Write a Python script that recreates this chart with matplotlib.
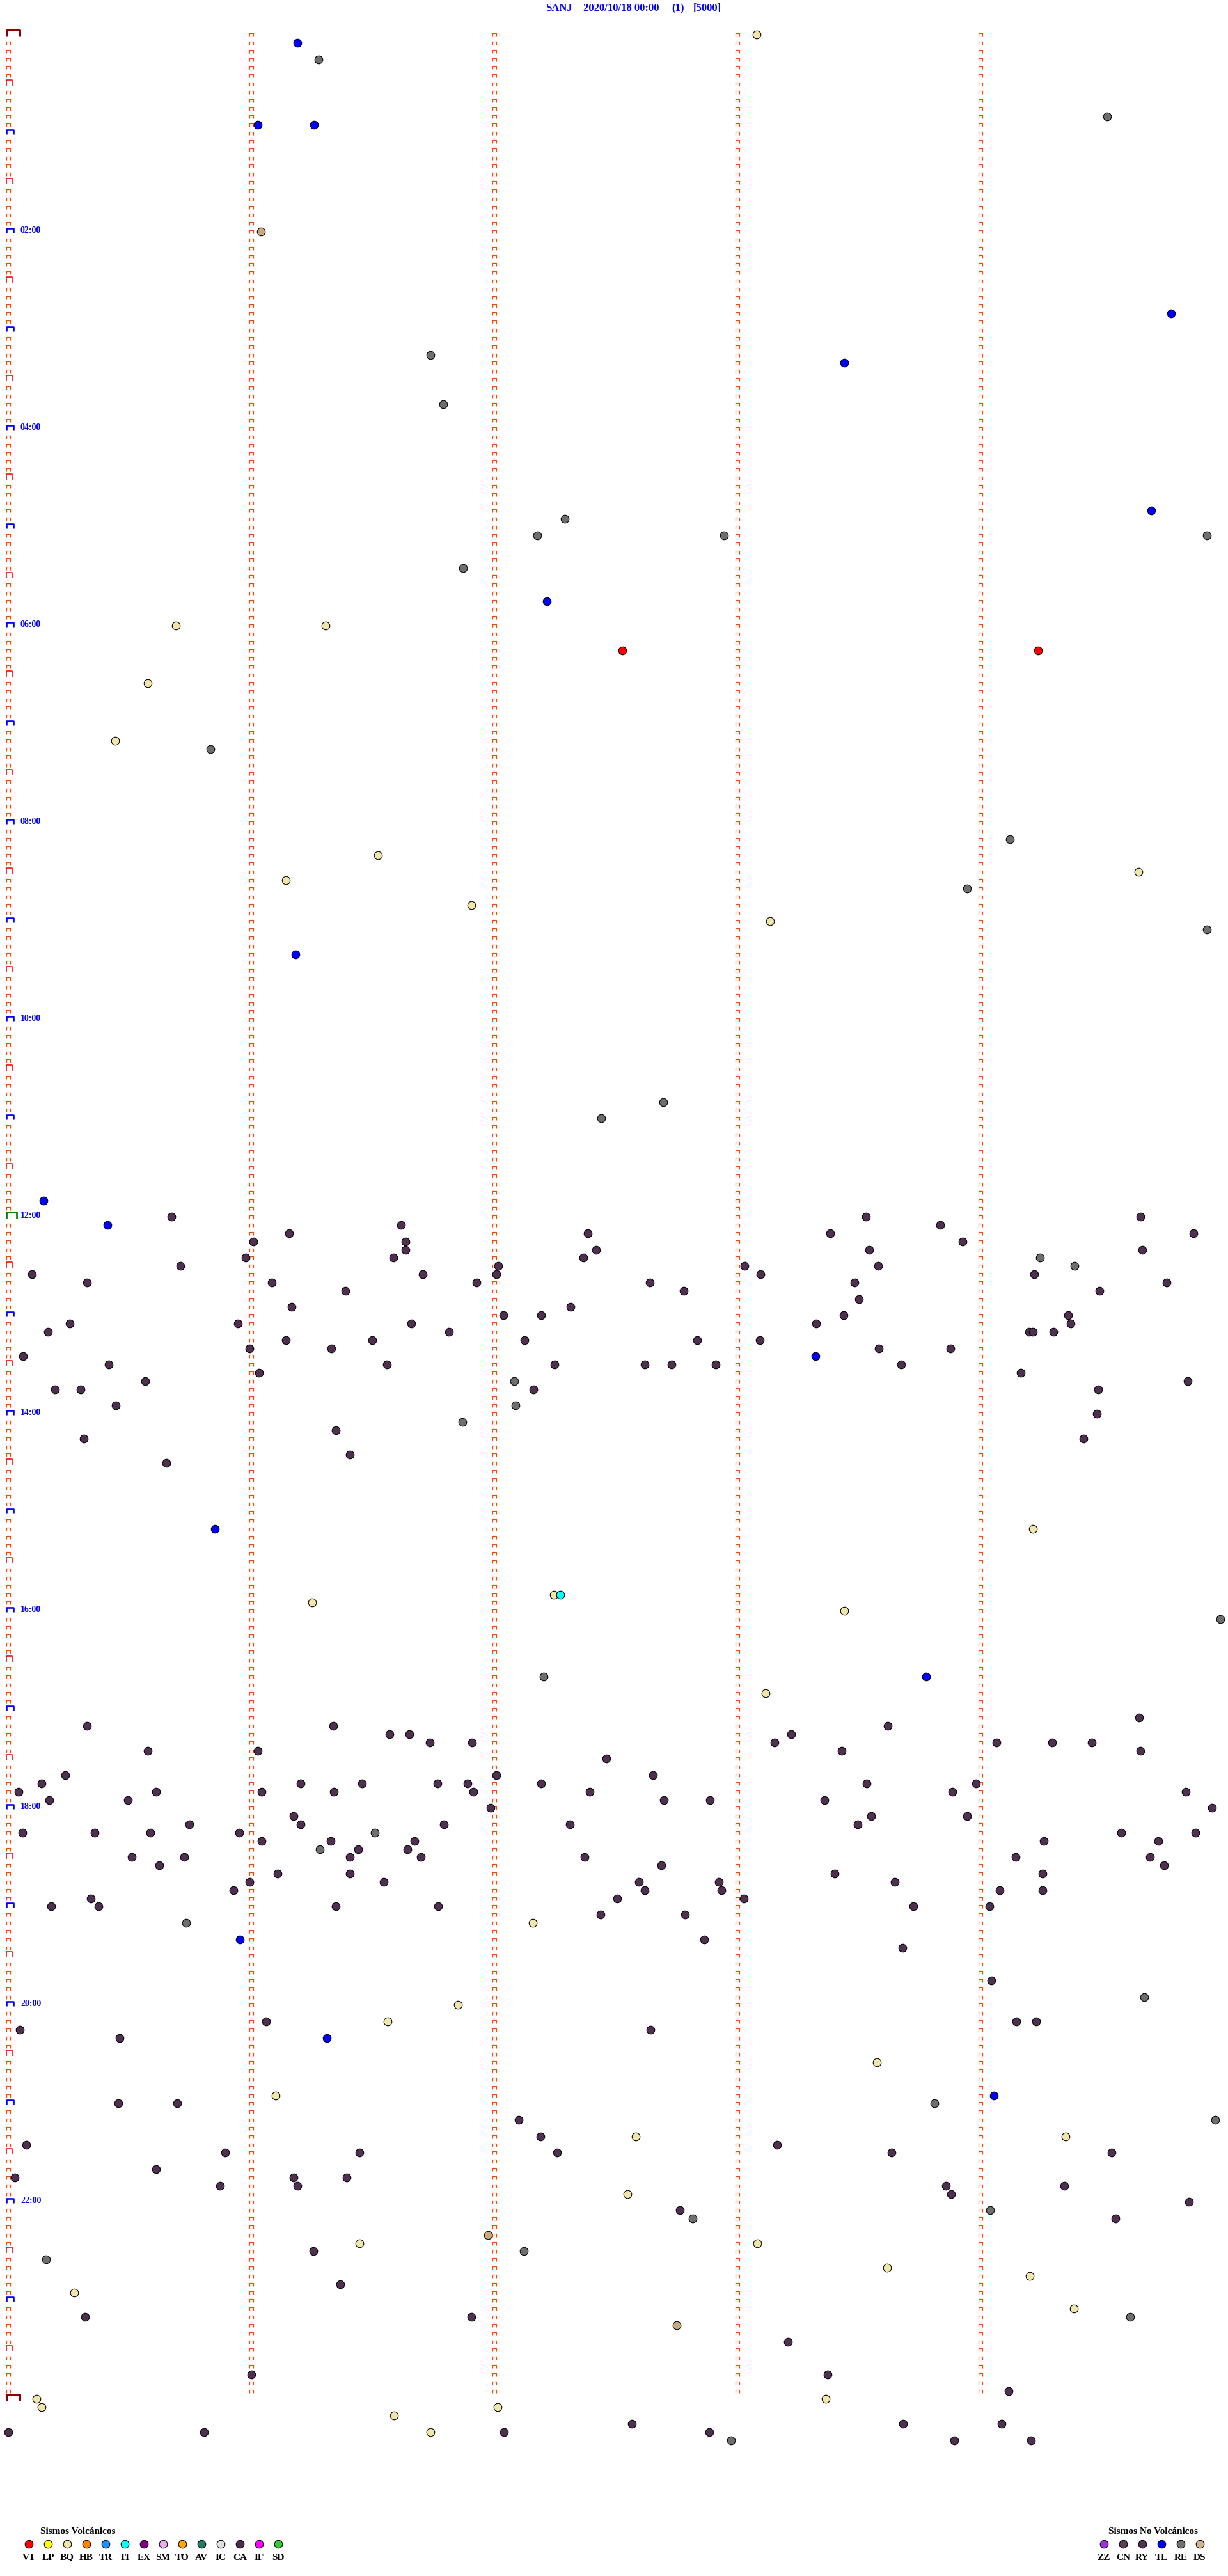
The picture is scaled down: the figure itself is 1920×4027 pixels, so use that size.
import numpy as np
import matplotlib
matplotlib.use('Agg')
import matplotlib.pyplot as plt
from matplotlib.path import Path

# drum layout: one row = 5 minutes, 288 rows per day
row_px = 12.835
row0_px = 54.0
min_px = 380.0
x0_px = 13.0
W, H = 1920, 4027

# events: (row index, minute within row)
ca_rows = [144, 146, 145, 147, 147, 148, 149, 149, 150, 151, 151, 151, 150, 152, 152, 152, 153, 155, 155, 156,
           156, 157, 157, 157, 158, 158, 159, 159, 159, 160, 160, 161, 162, 162, 162, 163, 164, 165, 165, 165,
           167, 170, 171, 173, 174, 146, 148, 149,
           144, 145, 146, 147, 148, 150, 150, 151, 152, 152, 153, 154, 156, 157, 159, 159, 160, 160, 162, 162,
           162, 162, 144, 146, 148, 151, 152, 153, 156, 157, 158, 158, 158, 163, 164, 165, 168, 171,
           206, 206, 207, 207, 208, 208, 209, 209, 210, 212, 212, 213, 213, 213, 213, 213, 213, 214, 214, 214,
           214, 214, 214, 215, 215, 216, 217, 218, 218, 218, 218, 219, 219, 219, 219, 220, 220, 220, 221, 221,
           222, 222, 222, 222, 222, 223, 224, 224, 225, 225, 226, 227, 228, 228, 228, 228, 229,
           206, 207, 208, 209, 205, 208, 208, 208, 209, 212, 213, 213, 214, 214, 215, 215, 215, 216, 217, 217,
           218, 219, 219, 220, 220, 222, 222, 223, 223, 224, 224, 225, 225, 225, 226, 226, 226, 226, 227, 227,
           228, 228, 229, 232, 233, 237,
           242, 243, 244, 243, 242, 242, 252, 252, 254, 256, 258, 257, 258, 258, 257, 258, 258, 260, 261, 261,
           262, 261, 262, 262, 262, 263, 264, 265, 266, 270, 274, 278, 278, 281, 285, 285, 287, 292, 292, 292,
           291, 292, 291, 293, 291, 293]
ca_mins = [0.671, 1.154, 1.617, 1.008, 1.633, 1.634, 0.977, 1.583, 0.707, 0.098, 1.705, 2.008, 2.016, 0.323,
           1.085, 1.927, 1.386, 1.167, 2.314, 2.037, 2.193, 0.252, 0.945, 1.658, 0.162, 1.813, 1.143, 1.497,
           2.124, 0.992, 1.328, 0.061, 0.413, 1.557, 2.248, 1.032, 0.562, 0.193, 0.298, 2.161, 0.441, 1.348,
           0.311, 1.406, 0.650, 2.385, 2.418, 2.365,
           3.529, 3.835, 3.381, 3.926, 3.542, 3.030, 3.579, 3.096, 3.481, 2.640, 2.779, 3.499, 3.437, 3.323,
           2.833, 3.093, 3.581, 3.877, 2.618, 2.729, 2.911, 3.674, 4.657, 4.876, 4.666, 4.220, 4.766, 4.489,
           4.360, 4.370, 4.199, 4.217, 4.301, 4.165, 4.853, 4.484, 4.479, 4.425,
           0.323, 1.338, 1.568, 1.650, 1.733, 1.907, 0.575, 1.027, 2.461, 0.233, 2.008, 0.138, 1.203, 1.456,
           1.765, 1.890, 2.192, 0.041, 0.607, 1.043, 1.339, 1.914, 2.391, 0.169, 0.491, 1.984, 1.174, 0.744,
           1.203, 1.791, 2.311, 0.059, 0.356, 0.584, 0.950, 1.043, 1.327, 1.670, 1.439, 1.642, 0.509, 0.724,
           1.404, 1.697, 2.372, 0.621, 1.109, 1.406, 0.992, 1.546, 0.927, 0.339, 0.177, 0.370, 1.348, 1.769,
           2.438,
           3.619, 3.220, 3.152, 3.428, 4.652, 4.066, 4.294, 4.457, 4.658, 2.652, 3.532, 3.982, 3.885, 4.846,
           2.698, 2.887, 3.359, 4.953, 3.550, 3.945, 3.496, 4.578, 4.885, 4.261, 4.732, 4.144, 4.698, 2.687,
           4.755, 3.399, 4.254, 2.595, 2.924, 3.647, 2.619, 2.935, 4.080, 4.256, 2.505, 3.027, 3.724, 4.038,
           2.785, 2.864, 3.678, 4.044,
           1.061, 0.047, 0.459, 2.641, 4.148, 4.230, 0.452, 0.696, 2.101, 2.189, 2.257, 0.074, 0.891, 1.446,
           3.162, 3.635, 4.540, 0.608, 0.027, 1.175, 1.190, 1.392, 0.871, 4.344, 3.858, 3.878, 4.858, 2.763,
           4.554, 1.256, 1.365, 0.317, 1.905, 3.209, 3.371, 1.000, 4.115, 0.000, 0.804, 2.040, 2.567, 2.885,
           3.682, 3.892, 4.088, 4.209]

tl_rows = [1, 11, 11, 34, 40, 58, 69, 112, 142, 145, 161, 182, 200, 232, 244, 251]
tl_mins = [1.189, 1.027, 1.257, 4.784, 3.439, 4.703, 2.216, 1.182, 0.146, 0.407, 3.321, 0.851, 3.777, 0.953,
           1.311, 4.054]

re_rows = [3, 10, 39, 45, 59, 61, 61, 61, 65, 87, 98, 104, 109, 130, 132, 164, 167, 169, 149, 150, 193, 200,
           219, 221, 230, 239, 252, 254, 265, 266, 270, 271, 278, 293]
re_mins = [1.277, 4.520, 1.736, 1.790, 2.290, 2.176, 2.946, 4.932, 1.872, 0.831, 4.121, 3.946, 4.932, 2.696,
           2.439, 2.082, 2.088, 1.869, 4.245, 4.388, 4.986, 2.203, 1.507, 1.282, 0.731, 4.675, 3.810, 4.966,
           4.040, 2.817, 2.121, 0.155, 4.615, 2.973]

bq_rows = [0, 72, 72, 79, 86, 100, 102, 103, 106, 108, 182, 191, 190, 192, 202, 230, 240, 242, 247, 251, 256,
           256, 263, 269, 269, 272, 273, 275, 277, 288, 289, 289, 288, 290, 292]
bq_mins = [3.080, 0.689, 1.304, 0.574, 0.439, 1.520, 4.649, 1.142, 1.905, 3.135, 4.216, 1.250, 2.245, 3.439,
           3.115, 2.159, 1.851, 1.561, 3.574, 1.101, 4.351, 2.581, 2.547, 1.446, 3.081, 3.615, 4.202, 0.270,
           4.385, 0.116, 0.138, 2.013, 3.364, 1.588, 1.736]

ds_rows = [24, 268, 279]
ds_mins = [1.040, 1.973, 2.750]

vt_rows = [75, 75]
vt_mins = [2.527, 4.236]

ti_rows = [190]
ti_mins = [2.270]

hour_labels = ['02:00', '04:00', '06:00', '08:00', '10:00', '12:00',
               '14:00', '16:00', '18:00', '20:00', '22:00']

vol_codes = ['VT', 'LP', 'BQ', 'HB', 'TR', 'TI', 'EX', 'SM', 'TO', 'AV', 'IC', 'CA', 'IF', 'SD']
vol_colors = ['#ff0000', '#ffff00', '#f0e6aa', '#ff8000', '#1e90ff', '#00ffff', '#800080',
              '#eeaaee', '#ffa500', '#1f7f66', '#dddddd', '#4b2d4b', '#ff00ff', '#33cc33']
nv_codes = ['ZZ', 'CN', 'RY', 'TL', 'RE', 'DS']
nv_colors = ['#9933dd', '#5a3f5a', '#553355', '#0000ff', '#707070', '#d2b48c']

serif = 'Liberation Serif'

fig = plt.figure(figsize=(W / 100, H / 100), dpi=100)
ax = fig.add_axes([0, 0, 1, 1])
ax.set_xlim(-x0_px / min_px, (W - x0_px) / min_px)
ax.set_ylim((H - row0_px) / row_px, -row0_px / row_px)
ax.axis('off')

pax = fig.add_axes([0, 0, 1, 1])
pax.set_xlim(0, W)
pax.set_ylim(H, 0)
pax.axis('off')


def bracket(x1, x2, y1, y2):
    # open "⊓" shape, coords in pixels around the anchor
    verts = [(x1, y1), (x1, y2), (x2, y2), (x2, y1)]
    m = np.max(np.abs(verts))
    return Path(verts), 2 * m * 0.72


def put_marks(rows, mins, shape, color, lw):
    p, ms = shape
    ax.plot(mins, rows, linestyle='none', marker=p, markersize=ms,
            markerfacecolor='none', markeredgecolor=color, markeredgewidth=lw * 0.72)


small = bracket(-2.7, 2.7, -2.5, 2.5)
half = bracket(-3.0, 5.7, -2.7, 5.7)
hour = bracket(-3.5, 7.7, -2.3, 5.3)
day = bracket(-3.5, 18.0, -2.7, 7.3)
noon = bracket(-3.5, 12.5, -2.5, 7.5)

rows = np.arange(0, 289)
kind_small = [r for r in rows if r % 6 != 0]
kind_half = [r for r in rows if r % 6 == 0 and r % 12 != 0]
kind_hour = [r for r in rows if r % 12 == 0 and r % 144 != 0]
kind_day = [0, 288]
kind_noon = [144]

put_marks(kind_small, np.zeros(len(kind_small)), small, '#ff4500', 1.2)
put_marks(kind_half, np.zeros(len(kind_half)), half, '#ff0000', 1.6)
put_marks(kind_hour, np.zeros(len(kind_hour)), hour, '#0000ff', 2.6)
put_marks(kind_day, np.zeros(2), day, '#8b0000', 3.0)
put_marks(kind_noon, np.zeros(1), noon, '#008000', 2.7)

for mcol in [1, 2, 3, 4]:
    rr = np.arange(0, 288)
    put_marks(rr, np.full(len(rr), mcol), small, '#ff4500', 1.2)

for i, lab in enumerate(hour_labels):
    r = (i + 1) * 24
    ax.text((32 - x0_px) / min_px, r - 0.12, lab, color='#0000ff', fontsize=10,
            fontweight='bold', family=serif, ha='left', va='center')

ev_ms = 9.0
ev_mew = 0.8
for rr, mm, col in [(ca_rows, ca_mins, '#4f3050'), (re_rows, re_mins, '#6e6e6e'),
                    (tl_rows, tl_mins, '#0000ff'), (bq_rows, bq_mins, '#f0e6aa'),
                    (ds_rows, ds_mins, '#c8aa80'), (vt_rows, vt_mins, '#ff0000'),
                    (ti_rows, ti_mins, '#00ffff')]:
    ax.plot(mm, rr, linestyle='none', marker='o', markersize=ev_ms,
            markerfacecolor=col, markeredgecolor='black', markeredgewidth=ev_mew)

# title line
tfs = 12
pax.text(853, 13, 'SANJ', color='#0000ff', fontsize=tfs, fontweight='bold', family=serif, va='center')
pax.text(912, 13, '2020/10/18 00:00', color='#0000ff', fontsize=tfs, fontweight='bold', family=serif, va='center')
pax.text(1050, 13, '(1)', color='#0000ff', fontsize=tfs, fontweight='bold', family=serif, va='center')
pax.text(1084, 13, '[5000]', color='#0000ff', fontsize=tfs, fontweight='bold', family=serif, va='center')

# legends
pax.text(63, 3957, 'Sismos Volcánicos', fontsize=11, fontweight='bold', family=serif, va='center', ha='left')
vx = 45 + 30 * np.arange(len(vol_codes))
for x, c, code in zip(vx, vol_colors, vol_codes):
    pax.plot([x], [3977], linestyle='none', marker='o', markersize=ev_ms,
             markerfacecolor=c, markeredgecolor='black', markeredgewidth=ev_mew)
    pax.text(x, 3998, code, fontsize=11, fontweight='bold', family=serif, ha='center', va='center')

pax.text(1733, 3957, 'Sismos No Volcánicos', fontsize=11, fontweight='bold', family=serif, va='center', ha='left')
nx = 1726 + 30 * np.arange(len(nv_codes))
for x, c, code in zip(nx, nv_colors, nv_codes):
    pax.plot([x], [3977], linestyle='none', marker='o', markersize=ev_ms,
             markerfacecolor=c, markeredgecolor='black', markeredgewidth=ev_mew)
    pax.text(x, 3998, code, fontsize=11, fontweight='bold', family=serif, ha='center', va='center')

fig.savefig('out.png', dpi=100, facecolor='white')
